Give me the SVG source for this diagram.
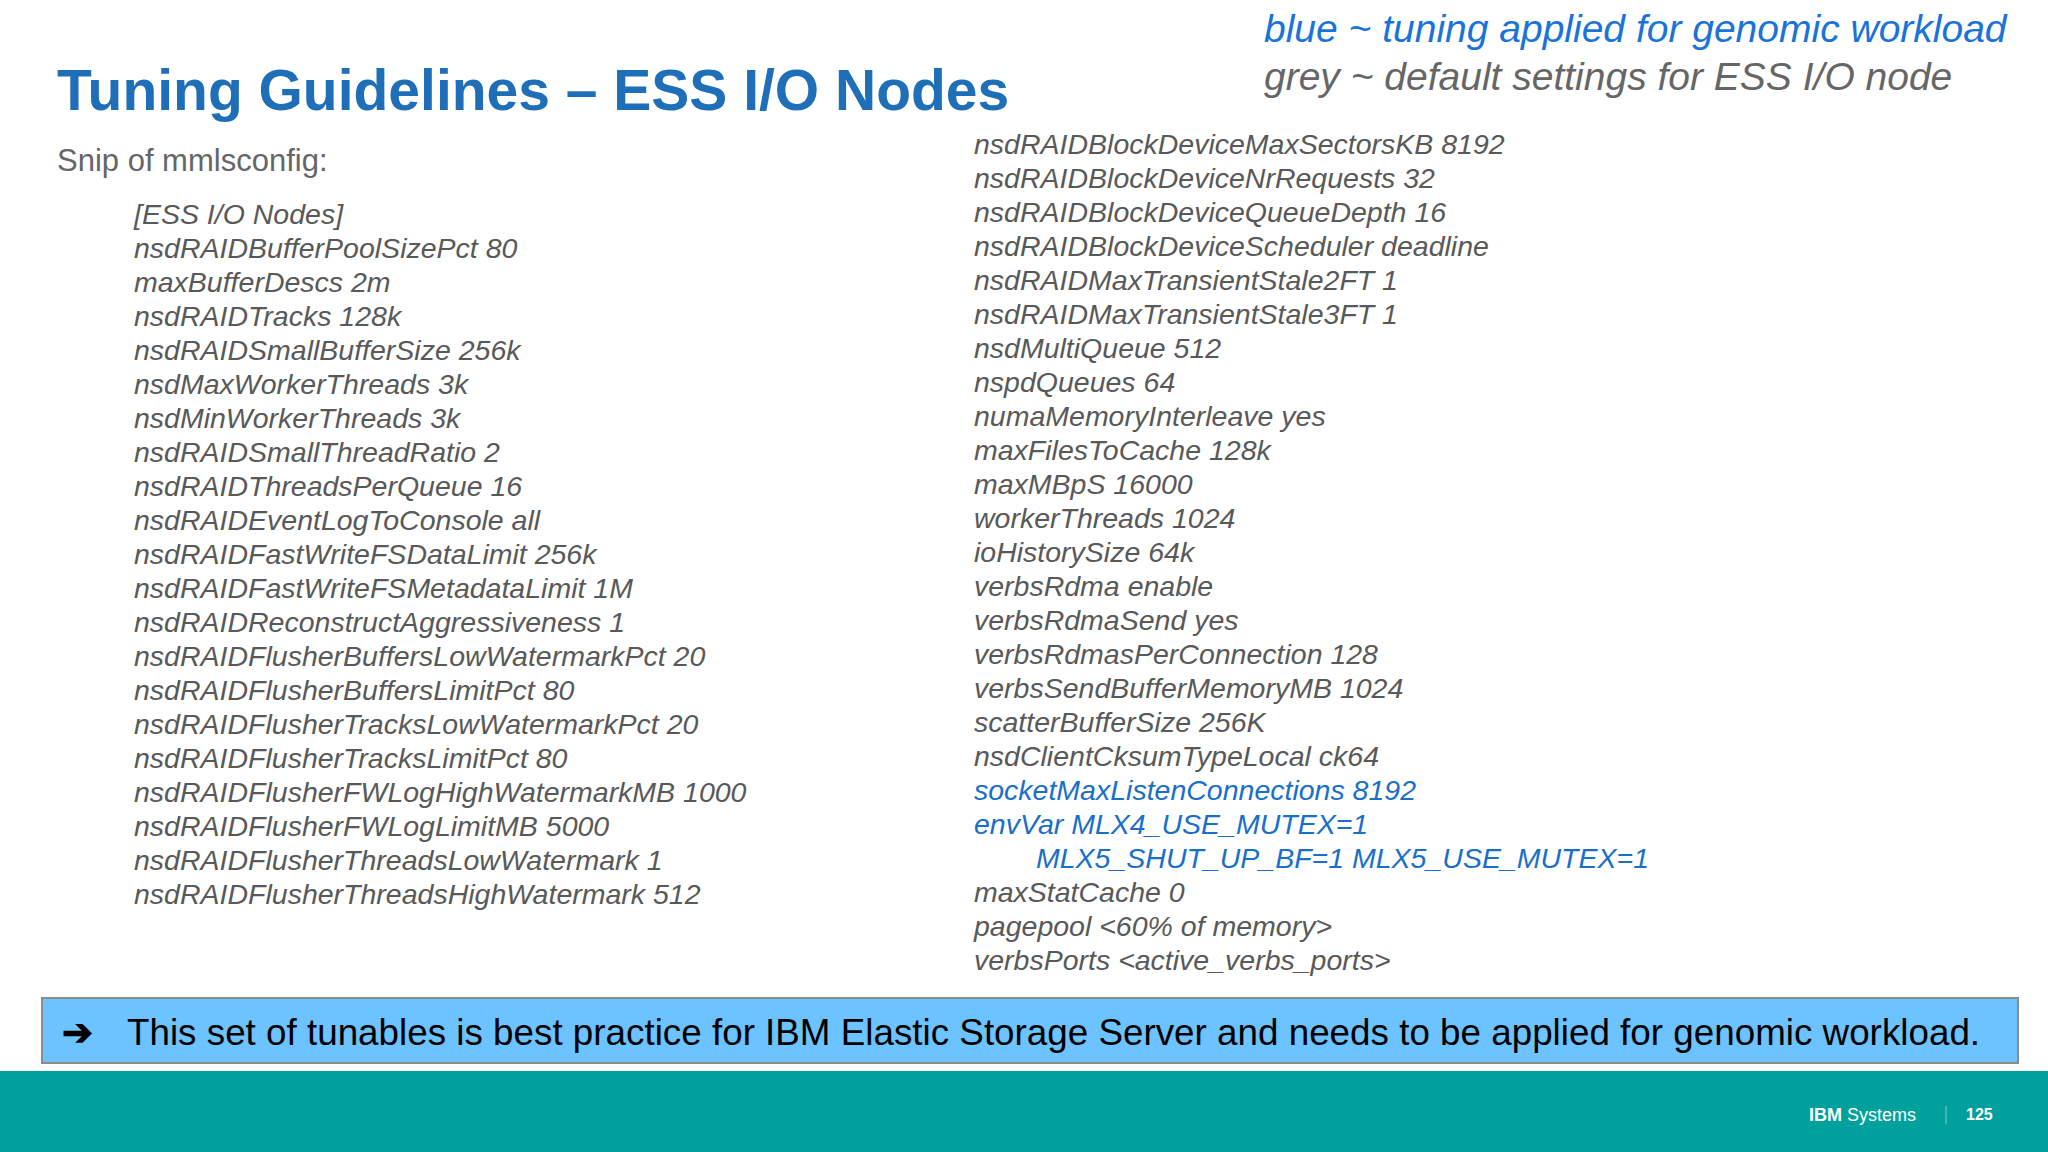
<svg xmlns="http://www.w3.org/2000/svg" width="2048" height="1152" viewBox="0 0 2048 1152">
<style>
text{font-family:"Liberation Sans",Arial,sans-serif}
.l{font-size:28.5px;font-style:italic;fill:#595959}
.b{fill:#1a6fc9}
</style>
<rect width="2048" height="1152" fill="#ffffff"/>
<g id="title"><text x="57" y="110" font-size="57" font-weight="bold" fill="#1f6fb8">Tuning Guidelines – ESS I/O Nodes</text></g>
<g id="legend">
<text x="1264" y="42" font-size="39" font-style="italic" fill="#1a73d9">blue ~ tuning applied for genomic workload</text>
<text x="1264" y="90" font-size="39" font-style="italic" fill="#666666">grey ~ default settings for ESS I/O node</text>
</g>
<g id="snip"><text x="57" y="171" font-size="31" fill="#666666">Snip of mmlsconfig:</text></g>
<g id="left">
<text class="l" x="134" y="224">[ESS I/O Nodes]</text>
<text class="l" x="134" y="258">nsdRAIDBufferPoolSizePct 80</text>
<text class="l" x="134" y="292">maxBufferDescs 2m</text>
<text class="l" x="134" y="326">nsdRAIDTracks 128k</text>
<text class="l" x="134" y="360">nsdRAIDSmallBufferSize 256k</text>
<text class="l" x="134" y="394">nsdMaxWorkerThreads 3k</text>
<text class="l" x="134" y="428">nsdMinWorkerThreads 3k</text>
<text class="l" x="134" y="462">nsdRAIDSmallThreadRatio 2</text>
<text class="l" x="134" y="496">nsdRAIDThreadsPerQueue 16</text>
<text class="l" x="134" y="530">nsdRAIDEventLogToConsole all</text>
<text class="l" x="134" y="564">nsdRAIDFastWriteFSDataLimit 256k</text>
<text class="l" x="134" y="598">nsdRAIDFastWriteFSMetadataLimit 1M</text>
<text class="l" x="134" y="632">nsdRAIDReconstructAggressiveness 1</text>
<text class="l" x="134" y="666">nsdRAIDFlusherBuffersLowWatermarkPct 20</text>
<text class="l" x="134" y="700">nsdRAIDFlusherBuffersLimitPct 80</text>
<text class="l" x="134" y="734">nsdRAIDFlusherTracksLowWatermarkPct 20</text>
<text class="l" x="134" y="768">nsdRAIDFlusherTracksLimitPct 80</text>
<text class="l" x="134" y="802">nsdRAIDFlusherFWLogHighWatermarkMB 1000</text>
<text class="l" x="134" y="836">nsdRAIDFlusherFWLogLimitMB 5000</text>
<text class="l" x="134" y="870">nsdRAIDFlusherThreadsLowWatermark 1</text>
<text class="l" x="134" y="904">nsdRAIDFlusherThreadsHighWatermark 512</text>
</g>
<g id="right">
<text class="l" x="974" y="154">nsdRAIDBlockDeviceMaxSectorsKB 8192</text>
<text class="l" x="974" y="188">nsdRAIDBlockDeviceNrRequests 32</text>
<text class="l" x="974" y="222">nsdRAIDBlockDeviceQueueDepth 16</text>
<text class="l" x="974" y="256">nsdRAIDBlockDeviceScheduler deadline</text>
<text class="l" x="974" y="290">nsdRAIDMaxTransientStale2FT 1</text>
<text class="l" x="974" y="324">nsdRAIDMaxTransientStale3FT 1</text>
<text class="l" x="974" y="358">nsdMultiQueue 512</text>
<text class="l" x="974" y="392">nspdQueues 64</text>
<text class="l" x="974" y="426">numaMemoryInterleave yes</text>
<text class="l" x="974" y="460">maxFilesToCache 128k</text>
<text class="l" x="974" y="494">maxMBpS 16000</text>
<text class="l" x="974" y="528">workerThreads 1024</text>
<text class="l" x="974" y="562">ioHistorySize 64k</text>
<text class="l" x="974" y="596">verbsRdma enable</text>
<text class="l" x="974" y="630">verbsRdmaSend yes</text>
<text class="l" x="974" y="664">verbsRdmasPerConnection 128</text>
<text class="l" x="974" y="698">verbsSendBufferMemoryMB 1024</text>
<text class="l" x="974" y="732">scatterBufferSize 256K</text>
<text class="l" x="974" y="766">nsdClientCksumTypeLocal ck64</text>
<text class="l b" x="974" y="800">socketMaxListenConnections 8192</text>
<text class="l b" x="974" y="834">envVar MLX4_USE_MUTEX=1</text>
<text class="l b" x="1036" y="868">MLX5_SHUT_UP_BF=1 MLX5_USE_MUTEX=1</text>
<text class="l" x="974" y="902">maxStatCache 0</text>
<text class="l" x="974" y="936">pagepool &lt;60% of memory&gt;</text>
<text class="l" x="974" y="970">verbsPorts &lt;active_verbs_ports&gt;</text>
</g>
<g id="note">
<rect x="42" y="998" width="1976" height="65" fill="#6cc3ff" stroke="#8c8c8c" stroke-width="2"/>
<text x="62" y="1045" font-size="37" font-weight="bold" fill="#000000">➔</text>
<text x="127" y="1045" font-size="36.8" fill="#000000">This set of tunables is best practice for IBM Elastic Storage Server and needs to be applied for genomic workload.</text>
</g>
<g id="footer">
<rect x="0" y="1071" width="2048" height="81" fill="#00a19c"/>
<text x="1809" y="1121" font-size="18" fill="#ffffff"><tspan font-weight="bold">IBM</tspan> Systems</text>
<line x1="1946" y1="1106" x2="1946" y2="1124" stroke="#7fd0cd" stroke-width="1"/>
<text x="1966" y="1120" font-size="16" font-weight="bold" fill="#ffffff">125</text>
</g>
</svg>
